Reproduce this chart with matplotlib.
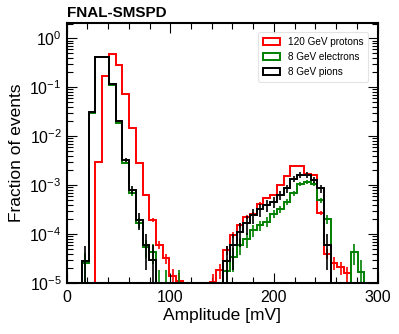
import numpy as np
import matplotlib
matplotlib.use("Agg")
import matplotlib.pyplot as plt
from matplotlib.patches import Patch
from matplotlib.ticker import LogLocator, MultipleLocator, NullFormatter

plt.rcParams['font.family'] = ['Liberation Sans', 'DejaVu Sans']
plt.rcParams['mathtext.fontset'] = 'custom'
plt.rcParams['mathtext.rm'] = 'Liberation Sans'
plt.rcParams['mathtext.it'] = 'Liberation Sans:italic'
plt.rcParams['mathtext.bf'] = 'Liberation Sans:bold'
plt.rcParams['mathtext.default'] = 'regular'

# ---------------- data ----------------
bin_lo, bin_hi, n_bins = 2.0, 300.0, 46

protons = [0, 0, 0, 0, 3.0e-3, 0.17, 0.47, 0.28, 0.074, 0.0147,
           2.8e-3, 6.3e-4, 1.95e-4, 6.0e-5, 3.2e-5, 1.4e-5, 1.1e-5, 0, 0, 0,
           0, 1.06e-5, 1.84e-5, 4.7e-5, 9.5e-5, 1.5e-4, 2.2e-4, 2.6e-4, 4.2e-4, 5.5e-4,
           6.3e-4, 1.0e-3, 1.5e-3, 2.4e-3, 2.4e-3, 1.7e-3, 1.6e-3, 2.7e-4, 4.0e-5, 2.6e-5,
           2.1e-5, 1.6e-5, 0, 0, 0, 0]
electrons = [0, 0, 2.6e-5, 0.030, 0.41, 0.41, 0.11, 0.019, 2.8e-3, 6.8e-4,
             1.7e-4, 5.5e-5, 4.4e-5, 9e-6, 9e-6, 0, 9e-6, 0, 0, 0,
             0, 0, 0, 1.8e-5, 3.4e-5, 6.0e-5, 7.8e-5, 1.2e-4, 1.5e-4, 1.8e-4,
             2.6e-4, 3.2e-4, 4.6e-4, 6.8e-4, 1.07e-3, 1.15e-3, 1.07e-3, 4.9e-4, 2.0e-4, 0,
             0, 0, 4.3e-5, 1.7e-5, 0, 0]
pions = [0, 0, 2.8e-5, 0.031, 0.41, 0.41, 0.115, 0.0205, 3.2e-3, 8.1e-4,
         1.93e-4, 6.0e-5, 3.0e-5, 0, 0, 0, 0, 0, 0, 0,
         0, 0, 0, 2.8e-5, 6.0e-5, 1.1e-4, 1.65e-4, 2.4e-4, 3.2e-4, 3.9e-4,
         4.6e-4, 6.3e-4, 8.6e-4, 1.36e-3, 1.6e-3, 1.6e-3, 1.27e-3, 8.6e-4, 6.0e-5, 0,
         0, 0, 0, 0, 0, 0]

# total number of events per sample (sets the statistical error bars)
n_events = {"protons": 5.0e5, "electrons": 1.1e5, "pions": 3.5e4}

labels = ["120 GeV protons", "8 GeV electrons", "8 GeV pions"]
colors = ["#ff0000", "#008000", "#000000"]
series = [("protons", protons), ("electrons", electrons), ("pions", pions)]

# ---------------- plot ----------------
fig = plt.figure(figsize=(3.99, 3.34), dpi=100)
ax = fig.add_axes([0.1667, 0.1527, 0.78, 0.7784])

edges = np.linspace(bin_lo, bin_hi, n_bins + 1)
centers = 0.5 * (edges[1:] + edges[:-1])

for (name, vals), col in zip(series, colors):
    v = np.asarray(vals, dtype=float)
    ax.stairs(np.where(v > 0, v, 1e-12), edges, color=col, lw=1.4, baseline=1e-12)
    m = v > 0
    err = np.sqrt(v[m] / n_events[name])
    ax.errorbar(centers[m], v[m], yerr=err, fmt='none', ecolor=col, elinewidth=1.2)

ax.set_yscale('log')
ax.set_xlim(0, 300)
ax.set_ylim(1e-5, 2.05)

ax.xaxis.set_major_locator(MultipleLocator(100))
ax.xaxis.set_minor_locator(MultipleLocator(20))
ax.yaxis.set_major_locator(LogLocator(base=10, numticks=20))
ax.yaxis.set_minor_locator(LogLocator(base=10, subs=np.arange(2, 10), numticks=20))
ax.yaxis.set_minor_formatter(NullFormatter())

ax.tick_params(which='both', direction='in', top=True, right=True, width=0.8,
               labelsize=11.5)
ax.tick_params(which='major', length=7)
ax.tick_params(which='minor', length=4)
ax.tick_params(axis='x', pad=5)
for s in ax.spines.values():
    s.set_linewidth(1.5)

ax.set_xlabel("Amplitude [mV]", fontsize=12.5, labelpad=2)
ax.set_ylabel("Fraction of events", fontsize=12.5, labelpad=4)
ax.set_title("FNAL-SMSPD", loc='left', fontsize=11, fontweight='bold', pad=4)

handles = [Patch(facecolor='none', edgecolor=c, linewidth=1.4) for c in colors]
leg = ax.legend(handles, labels, loc='upper right', fontsize=7.2, frameon=True,
                fancybox=True, handlelength=1.7, handleheight=0.75,
                labelspacing=0.5, borderpad=0.5, handletextpad=0.8,
                bbox_to_anchor=(0.985, 0.985))
leg.get_frame().set_edgecolor('#dddddd')
leg.get_frame().set_linewidth(0.8)

fig.savefig("out.png", dpi=100)
